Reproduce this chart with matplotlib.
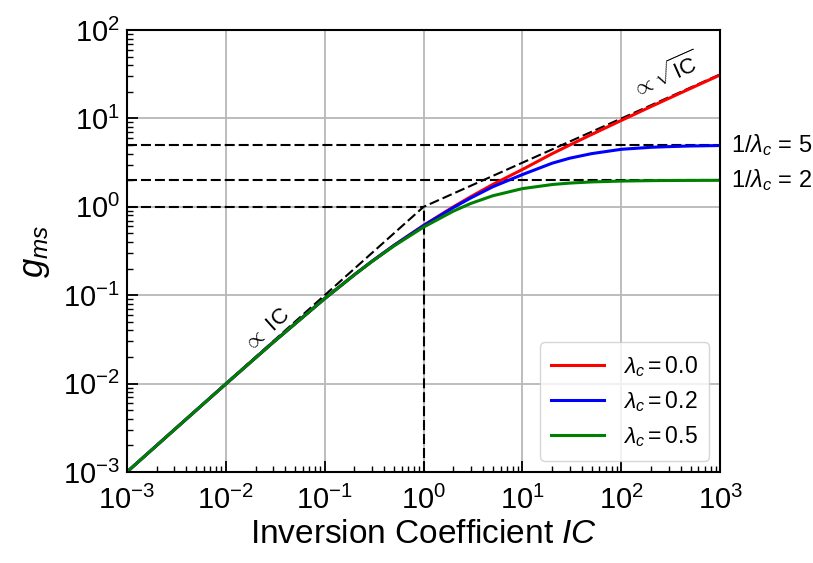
import numpy as np
import matplotlib.pyplot as plt

plt.rcParams['font.family'] = ['Liberation Sans', 'DejaVu Sans']
plt.rcParams['mathtext.fontset'] = 'custom'
plt.rcParams['mathtext.rm'] = 'Liberation Sans'
plt.rcParams['mathtext.it'] = 'Liberation Sans:italic'
plt.rcParams['mathtext.bf'] = 'Liberation Sans:bold'

# inversion coefficient sample points
ic = [1e-3, 3e-3, 1e-2, 3e-2, 0.1, 0.2, 0.3, 0.5, 1, 2, 3, 5,
      10, 20, 30, 50, 100, 200, 300, 500, 1000]

# gms for each lambda_c
gms_00 = [0.000999, 0.00299, 0.0099, 0.0292, 0.0916, 0.1708, 0.2416, 0.366, 0.618, 1.0, 1.303, 1.791,
          2.65, 4.0, 5.0, 6.59, 9.51, 13.65, 16.83, 21.87, 31.13]
gms_02 = [0.000999, 0.00299, 0.0099, 0.0292, 0.0916, 0.1707, 0.2415, 0.365, 0.613, 0.981, 1.261, 1.686,
          2.32, 3.12, 3.55, 4.0, 4.48, 4.72, 4.80, 4.88, 4.94]
gms_05 = [0.000999, 0.00299, 0.0099, 0.0291, 0.0915, 0.1702, 0.2399, 0.360, 0.590, 0.894, 1.092, 1.334,
          1.608, 1.789, 1.857, 1.914, 1.957, 1.979, 1.986, 1.991, 1.996]
labels = [r'$\lambda_c = 0.0$', r'$\lambda_c = 0.2$', r'$\lambda_c = 0.5$']
colors = ['red', 'blue', 'green']

# asymptotes: weak inversion ~ IC, strong inversion ~ sqrt(IC)
asym_x = [1e-3, 1, 1000]
asym_y = [1e-3, 1, 31.62]
sat_levels = [5, 2]

fig = plt.figure(figsize=(8.13, 5.63), dpi=100)
ax = fig.add_axes([0.156, 0.1616, 0.73, 0.785])

dash = dict(color='k', ls=(0, (4.8, 1.9)), lw=1.5)
ax.plot(asym_x, asym_y, **dash)
ax.plot([1e-3, 1], [1, 1], **dash)
ax.plot([1, 1], [1e-3, 1], **dash)
for lev in sat_levels:
    ax.plot([1e-3, 1000], [lev, lev], **dash)

for y, lab, c in zip([gms_00, gms_02, gms_05], labels, colors):
    ax.plot(ic, y, color=c, lw=2.2, label=lab)

ax.set_xscale('log')
ax.set_yscale('log')
ax.set_xlim(1e-3, 1e3)
ax.set_ylim(1e-3, 1e2)
ax.grid(True, which='major', color='#b8b8b8', lw=1.3)
ax.set_axisbelow(True)
ax.tick_params(which='both', direction='in', labelsize=21, top=False, right=False)
ax.tick_params(which='major', length=8, width=1.3, pad=5)
ax.tick_params(axis='x', which='major', pad=10)
ax.tick_params(which='minor', length=4, width=1)
for s in ax.spines.values():
    s.set_linewidth(1.5)

ax.set_xlabel(r'Inversion Coefficient $\it{IC}$', fontsize=24, labelpad=3)
ax.set_ylabel(r'$g_{ms}$', fontsize=25, labelpad=8)

ax.text(0.026, 0.04, r'$\propto$ IC', rotation=42, fontsize=16,
        ha='center', va='center')
ax.text(280, 30, r'$\propto\sqrt{\mathrm{IC}}$', rotation=24, fontsize=16,
        ha='center', va='center')
for lev in sat_levels:
    ax.text(1270, lev, r'$1/\lambda_c$ = %d' % lev, fontsize=17,
            ha='left', va='center', clip_on=False)

ax.legend(loc='lower right', fontsize=16.5, handlelength=2.3, borderpad=0.5,
          labelspacing=0.45)

fig.savefig('out.png', dpi=100)
